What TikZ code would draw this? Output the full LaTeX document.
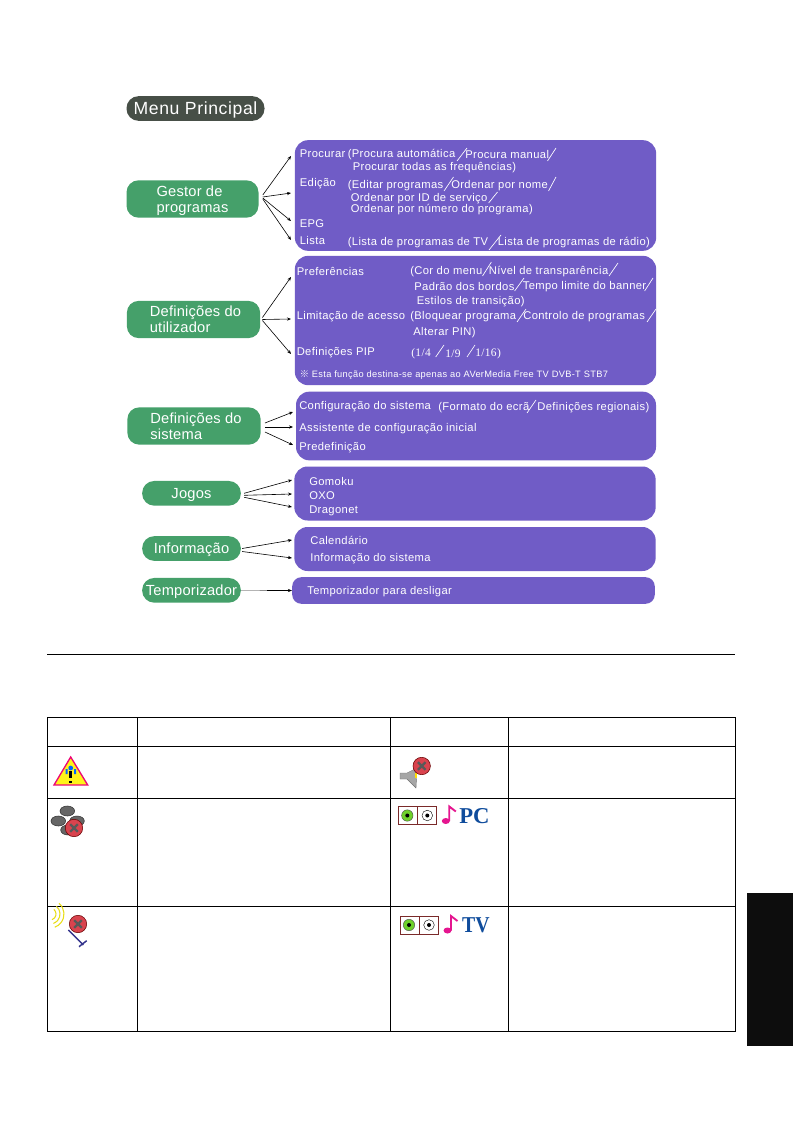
\documentclass[tikz,border=0pt]{standalone}
\usepackage{fontspec}
\setmainfont[LetterSpace=3.5]{Liberation Sans}
\newfontfamily\catfont[LetterSpace=1.5]{Liberation Sans}
\newfontfamily\pipfont[LetterSpace=3]{Liberation Serif}
\newfontfamily\iconfont{Liberation Serif}
\newfontfamily\cjkfont{Noto Sans CJK SC}
\usepackage{tikz}
\usetikzlibrary{arrows, positioning, arrows.meta}

\definecolor{menugreen}{HTML}{45A06A}
\definecolor{menupurple}{HTML}{705CC6}
\definecolor{menudark}{HTML}{474F47}
\definecolor{iconred}{HTML}{D9434E}
\definecolor{jackgreen}{HTML}{6FD12A}
\definecolor{noteblue}{HTML}{0F4C9C}
\definecolor{notepink}{HTML}{E5158F}
\definecolor{boxbrown}{HTML}{7A2A2A}
\definecolor{antennablue}{HTML}{34348C}

\tikzset{
    catbox/.style={fill=menugreen, rounded corners=9pt, text=white, align=left, text depth=0pt, font=\catfont\fontsize{11}{12.2}\selectfont, inner sep=0pt},
    panel/.style={fill=menupurple, rounded corners=10pt, inner sep=0pt},
    item/.style={text=white, anchor=west, inner sep=0pt, yshift=-0.5pt, font=\fontsize{8.4}{9}\selectfont},
    small/.style={item, font=\fontsize{6.95}{7}\selectfont},
    pip/.style={item, font=\pipfont\fontsize{8.6}{9}\selectfont},
    sep/.style={white, line width=0.5pt},
    link/.style={-{Stealth[length=3pt,width=2.4pt]}, black, line width=0.45pt},
    cell/.style={black, line width=0.75pt},
    iconlabel/.style={font=\iconfont\bfseries\fontsize{17}{17}\selectfont, text=noteblue, anchor=west, inner sep=0pt},
    xmark/.pic={
        \fill[iconred, draw=black!60!red, line width=0.4pt] (0,0) circle (8.7);
        \draw[black!65, line width=1.7pt] (-3.8,-3.8) -- (3.8,3.8) (-3.8,3.8) -- (3.8,-3.8);
    },
    jack/.pic={
        \draw[boxbrown, line width=0.4pt] (-10,-9) rectangle (9,9) (9,-9) rectangle (28,9);
        \fill[jackgreen, draw=black!70, line width=0.3pt] (-1,0) circle (5.7);
        \fill[black] (-1,0) circle (2);
        \draw[black, fill=white, line width=0.3pt] (19,0) circle (5.3);
        \fill[black] (19,0) circle (2);
        \fill[notepink] (37.5,5.5) ellipse (4 and 3);
        \draw[notepink, line width=1.4pt] (41,5.5) -- (41,-9) -- (47.5,-4);
    }
}

\begin{document}
\begin{tikzpicture}[x=0.75pt, y=-0.75pt]
    \useasboundingbox (0,0) rectangle (793,1123);
    \fill[white] (0,0) rectangle (793,1123);

    % page rule
    \draw[cell] (47,654) -- (735,654);

    % title
    \node[fill=menudark, rounded corners=9pt, text=white, text depth=0pt, minimum width=103.5pt, minimum height=18.5pt, inner sep=0pt, font=\fontsize{13.2}{14}\selectfont] (title) at (195.5,108.5) {Menu Principal};

    % --- panels ---
    \node[panel, minimum width=271pt, minimum height=83pt] (panelprog) at (475.5,195.5) {};
    \node[panel, minimum width=271pt, minimum height=97pt] (paneluser) at (475.5,320.5) {};
    \node[panel, minimum width=270pt, minimum height=51.5pt] (panelsys) at (476,426) {};
    \node[panel, minimum width=271pt, minimum height=40.5pt] (panelgame) at (475,493.5) {};
    \node[panel, minimum width=271pt, minimum height=33pt] (panelinfo) at (475,549) {};
    \node[panel, rounded corners=7pt, minimum width=272pt, minimum height=20pt] (paneltimer) at (473.5,590.5) {};

    % --- categories ---
    \node[catbox, minimum width=99pt, minimum height=28pt] (prog) at (192.5,199) {Gestor de\\programas};
    \node[catbox, minimum width=100pt, minimum height=28pt] (user) at (193.5,319.5) {\hspace*{3pt}Definições do\\\hspace*{3pt}utilizador};
    \node[catbox, minimum width=100pt, minimum height=28pt] (sys) at (194,426) {\hspace*{3pt}Definições do\\\hspace*{3pt}sistema};
    \node[catbox, minimum width=74pt, minimum height=18.5pt] (game) at (191.5,493.3) {Jogos};
    \node[catbox, minimum width=74pt, minimum height=18.5pt] (info) at (191.5,548.5) {Informação};
    \node[catbox, minimum width=74pt, minimum height=18.5pt] (timer) at (191.5,590.3) {Temporizador};

    % --- Gestor de programas ---
    \node[item] at (299.5,153) {Procurar};
    \node[item] at (299.5,183) {Edição};
    \node[item] at (299.5,223) {EPG};
    \node[item] at (299.5,240) {Lista};
    \node[item] at (347.5,153.5) {(Procura automática};
    \node[item] at (465,153.5) {Procura manual};
    \node[item] at (352.5,167) {Procurar todas as frequências)};
    \node[item] at (347.5,184.5) {(Editar programas};
    \node[item] at (451,184.5) {Ordenar por nome};
    \node[item] at (350.5,198) {Ordenar por ID de serviço};
    \node[item] at (350.5,209) {Ordenar por número do programa)};
    \node[item] at (347.5,241.5) {(Lista de programas de TV};
    \node[item] at (497.5,241.5) {Lista de programas de rádio)};

    % --- Definições do utilizador ---
    \node[item] at (296.5,270.5) {Preferências};
    \node[item] at (296.5,315.5) {Limitação de acesso};
    \node[item] at (296.5,352) {Definições PIP};
    \node[item] at (410,270.5) {(Cor do menu};
    \node[item] at (488.5,270.5) {Nível de transparência};
    \node[item] at (414,285.7) {Padrão dos bordos};
    \node[item] at (522.5,285.7) {Tempo limite do banner};
    \node[item] at (416.5,301) {Estilos de transição)};
    \node[item] at (410,316) {(Bloquear programa};
    \node[item] at (523,316) {Controlo de programas};
    \node[item] at (413,331.7) {Alterar PIN)};
    \node[pip] at (411,352.7) {(1/4};
    \node[pip] at (445,352.7) {1/9};
    \node[pip] at (475,352.7) {1/16)};
    \node[small] at (299.5,374) {{\cjkfont ※} Esta função destina-se apenas ao AVerMedia Free TV DVB-T STB7};

    % --- Definições do sistema ---
    \node[item] at (299,405.5) {Configuração do sistema};
    \node[item] at (299,427.7) {Assistente de configuração inicial};
    \node[item] at (299,446.7) {Predefinição};
    \node[item] at (438,406.7) {(Formato do ecrã};
    \node[item] at (537,406.7) {Definições regionais)};

    % --- Jogos / Informação / Temporizador ---
    \node[item] at (309,480.7) {Gomoku};
    \node[item] at (309,495) {OXO};
    \node[item] at (309,509.7) {Dragonet};
    \node[item] at (310,540) {Calendário};
    \node[item] at (310,558) {Informação do sistema};
    \node[item] at (307,590.5) {Temporizador para desligar};

    % separators between options
    \foreach \xa/\ya/\xb/\yb in {457/161/467/148, 547.5/161/556/148, 444/191/453.5/177, 548.5/191/556/177, 488.6/203/497.5/192, 489/250/501/235,
        482.5/276/491.4/262, 609/276/618/263, 514.6/291/524/278, 644.6/291/653/278, 517/322/526/309, 647/322/656/309,
        435.7/357/444/345, 467/357/475/345, 527/413/536/400}
        \draw[sep] (\xa,\ya) -- (\xb,\yb);

    % --- arrows ---
    \coordinate (pa) at (291,156);
    \coordinate (pb) at (291,193);
    \coordinate (pc) at (291,221);
    \coordinate (pd) at (291,240);
    \coordinate (ua) at (291,277);
    \coordinate (ub) at (291,319);
    \coordinate (uc) at (291,354);
    \coordinate (sa) at (293,412);
    \coordinate (sb) at (293,427);
    \coordinate (sc) at (293,445);
    \coordinate (ga) at (292,480);
    \coordinate (gb) at (292,494);
    \coordinate (gc) at (292,507);
    \coordinate (ia) at (292,540);
    \coordinate (ib) at (292,558);
    \coordinate (tm) at (267,590.5);
    \foreach \target/\dy in {pa/-4,pb/-2,pc/-1,pd/0}
        \draw[link] ([shift={(4,\dy)}]prog.east) -- (\target);
    \foreach \target/\dy in {ua/-2,ub/0,uc/1}
        \draw[link] ([shift={(2,\dy)}]user.east) -- (\target);
    \foreach \target/\dy in {sa/-3,sb/1,sc/6}
        \draw[link] ([shift={(4,\dy)}]sys.east) -- (\target);
    \foreach \target/\dy in {ga/0,gb/2,gc/4}
        \draw[link] ([shift={(3,\dy)}]game.east) -- (\target);
    \foreach \target/\dy in {ia/0,ib/3}
        \draw[link] ([shift={(1,\dy)}]info.east) -- (\target);
    \draw[black!45, line width=0.45pt] (timer.east) -- (tm);
    \draw[link] (tm) -- (paneltimer.west);

    % --- table ---
    \draw[cell] (47.5,717.5) rectangle (735.5,1031.5);
    \foreach \yy in {746.5,798.5,906.5} \draw[cell] (47.5,\yy) -- (735.5,\yy);
    \foreach \xx in {137.5,390.5,508.5} \draw[cell] (\xx,717.5) -- (\xx,1031.5);

    % warning icon
    \fill[yellow!90!white] (70.7,757) -- (54,785) -- (87.7,785) -- cycle;
    \draw[magenta!80!red, line width=1pt] (70.7,757) -- (54,785) -- (87.7,785) -- cycle;
    \fill[blue!60!cyan] (70.7,768) circle (2.4) (65.5,769) rectangle (67.5,774) (74,769) rectangle (76,774);
    \fill[black] (69.2,770.5) rectangle (72.2,778);
    \fill[black] (69.2,780.5) rectangle (72.2,783);

    % disc icon
    \foreach \cx/\cy in {67.3/811, 58.3/821, 77/821, 68/830}
        \fill[black!60, draw=black!80, line width=0.4pt] (\cx,\cy) ellipse (7.3 and 5);
    \pic at (74,828) {xmark};

    % antenna icon
    \foreach \rr in {6,10,14}
        \draw[yellow!90!black, line width=0.8pt] (50,914) ++(-50:\rr) arc (-50:70:\rr);
    \draw[antennablue, line width=1.1pt] (68.3,930) -- (83.3,945) (79,946.7) -- (86.7,940.7);
    \pic at (78,924) {xmark};

    % speaker icon
    \fill[black!35, draw=black!55, line width=0.3pt] (400,773) -- (400,779) -- (407,779) -- (416,788) -- (417,768) -- (407,773) -- cycle;
    \fill[yellow!80!orange] (414.5,773) rectangle (416.5,778);
    \pic at (421.7,766) {xmark};

    % audio icons
    \pic at (408.3,815.5) {jack};
    \node[iconlabel] (pclabel) at (459,816) {PC};
    \pic at (410,925) {jack};
    \node[iconlabel, xscale=0.87] (tvlabel) at (462,925) {TV};

    % side tab
    \fill[black!95] (747,893) rectangle (793,1046);
\end{tikzpicture}
\end{document}
